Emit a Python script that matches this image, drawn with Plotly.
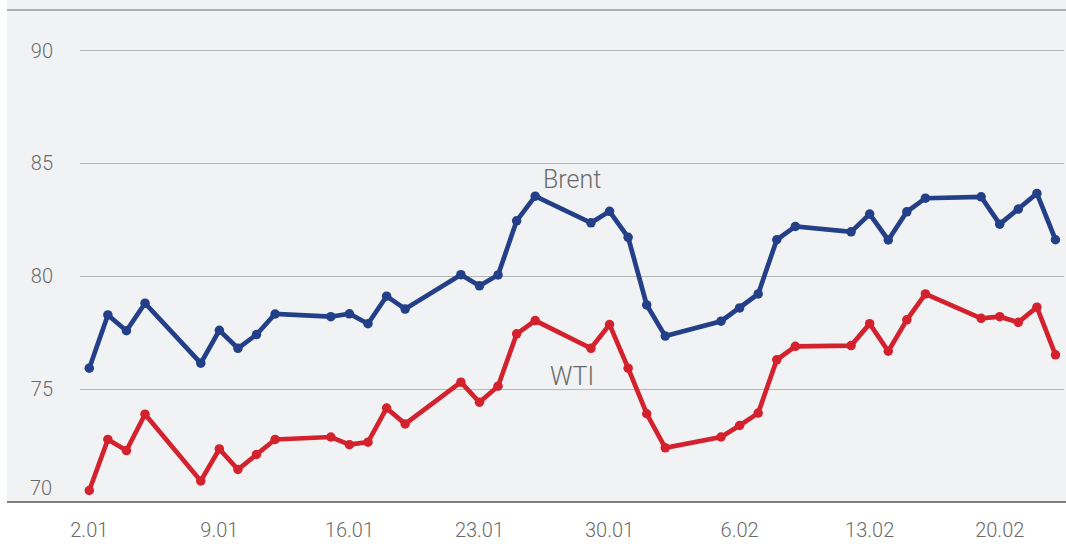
import plotly.graph_objects as go

dates = [
    "2024-01-02", "2024-01-03", "2024-01-04", "2024-01-05",
    "2024-01-08", "2024-01-09", "2024-01-10", "2024-01-11", "2024-01-12",
    "2024-01-15", "2024-01-16", "2024-01-17", "2024-01-18", "2024-01-19",
    "2024-01-22", "2024-01-23", "2024-01-24", "2024-01-25", "2024-01-26",
    "2024-01-29", "2024-01-30", "2024-01-31", "2024-02-01", "2024-02-02",
    "2024-02-05", "2024-02-06", "2024-02-07", "2024-02-08", "2024-02-09",
    "2024-02-12", "2024-02-13", "2024-02-14", "2024-02-15", "2024-02-16",
    "2024-02-19", "2024-02-20", "2024-02-21", "2024-02-22", "2024-02-23",
]

brent = [
    75.93, 78.29, 77.59, 78.81,
    76.15, 77.61, 76.81, 77.42, 78.33,
    78.21, 78.34, 77.90, 79.12, 78.55,
    80.07, 79.58, 80.06, 82.46, 83.55,
    82.37, 82.88, 81.73, 78.73, 77.35,
    78.01, 78.60, 79.22, 81.62, 82.21,
    81.97, 82.76, 81.61, 82.86, 83.46,
    83.52, 82.31, 82.98, 83.67, 81.62,
]

wti = [
    70.51, 72.77, 72.28, 73.89,
    70.93, 72.35, 71.44, 72.11, 72.77,
    72.88, 72.54, 72.65, 74.16, 73.46,
    75.31, 74.42, 75.13, 77.45, 78.04,
    76.81, 77.86, 75.93, 73.91, 72.40,
    72.88, 73.39, 73.94, 76.30, 76.90,
    76.93, 77.90, 76.68, 78.07, 79.22,
    78.14, 78.21, 77.96, 78.63, 76.52,
]

x_tick_vals = ["2024-01-02", "2024-01-09", "2024-01-16", "2024-01-23",
               "2024-01-30", "2024-02-06", "2024-02-13", "2024-02-20"]
x_tick_text = ["2.01", "9.01", "16.01", "23.01", "30.01", "6.02", "13.02", "20.02"]
y_tick_vals = [75, 80, 85, 90]

BLUE = "#233f87"
RED = "#d3222e"
GRID = "#b5b6b8"
BG = "#f1f2f4"
TXT = "#6b6b6b"
FONT = "Roboto"

fig = go.Figure()
fig.add_trace(go.Scatter(
    x=dates, y=brent, mode="lines+markers", name="Brent",
    line=dict(color=BLUE, width=4.7), marker=dict(color=BLUE, size=9.5),
))
fig.add_trace(go.Scatter(
    x=dates, y=wti, mode="lines+markers", name="WTI",
    line=dict(color=RED, width=4.7), marker=dict(color=RED, size=9.5),
))

W, H = 1066, 546
L, R, T, B = 80, 2, 10, 44
dom_w = W - L - R
dom_h = H - T - B

def px_to_paper_x(px):
    return (px - L) / dom_w

def px_to_paper_y(py):
    return (H - B - py) / dom_h

fig.update_layout(
    width=W, height=H,
    margin=dict(l=L, r=R, t=T, b=B, pad=0),
    paper_bgcolor="white",
    plot_bgcolor=BG,
    showlegend=False,
    font=dict(family=FONT, color=TXT, size=20, weight=300),
    xaxis=dict(
        type="date",
        range=["2024-01-01 12:00", "2024-02-23 11:00"],
        tickvals=x_tick_vals, ticktext=x_tick_text,
        showgrid=False, zeroline=False, showline=False,
        ticks="", ticklabelstandoff=14,
        tickfont=dict(family=FONT, size=20, color=TXT, weight=300),
        fixedrange=True,
    ),
    yaxis=dict(
        range=[70, 91.8],
        tickvals=y_tick_vals,
        showgrid=True, gridcolor=GRID, gridwidth=1.2,
        zeroline=False, showline=False,
        ticks="", ticklabelstandoff=26,
        tickfont=dict(family=FONT, size=20, color=TXT, weight=300),
        fixedrange=True,
    ),
    shapes=[
        dict(type="rect", xref="paper", yref="paper",
             x0=px_to_paper_x(7), x1=px_to_paper_x(W), y0=0, y1=px_to_paper_y(0),
             fillcolor=BG, line=dict(width=0), layer="below"),
        dict(type="line", xref="paper", yref="paper",
             x0=px_to_paper_x(7), x1=px_to_paper_x(W), y0=1, y1=1,
             line=dict(color="#adaeb0", width=2), layer="above"),
        dict(type="line", xref="paper", yref="paper",
             x0=px_to_paper_x(7), x1=px_to_paper_x(W), y0=0, y1=0,
             line=dict(color="#555555", width=1.5), layer="above"),
    ],
    annotations=[
        dict(text="Brent", x="2024-01-27 23:00", y=84.3, xref="x", yref="y",
             showarrow=False, font=dict(family=FONT, size=25, color=TXT, weight=300)),
        dict(text="WTI", x="2024-01-27 23:00", y=75.57, xref="x", yref="y",
             showarrow=False, font=dict(family=FONT, size=25, color=TXT, weight=300)),
        dict(text="70", xref="paper", yref="y", x=px_to_paper_x(54), y=70,
             xanchor="right", yanchor="middle", yshift=14, showarrow=False,
             font=dict(family=FONT, size=20, color=TXT, weight=300)),
    ],
)

fig.write_html(
    "out.html",
    config={"displayModeBar": False, "staticPlot": True},
    post_script="document.body.style.margin='0';document.body.style.padding='0';document.body.style.overflow='hidden';",
)
